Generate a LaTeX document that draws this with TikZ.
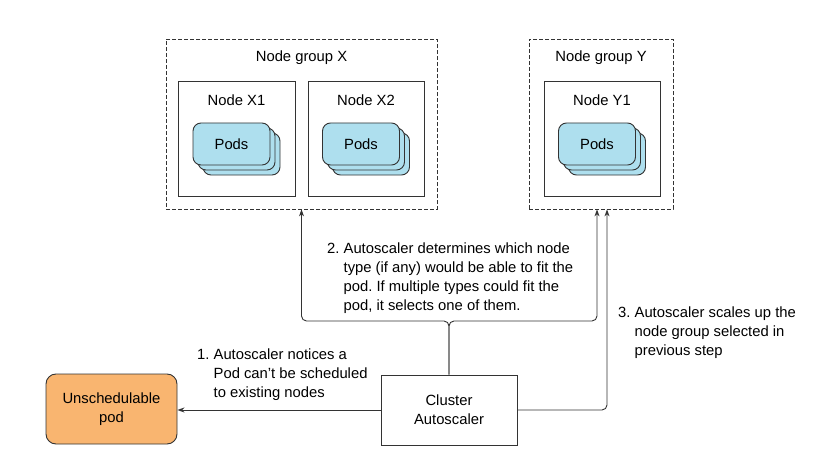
\documentclass[tikz,border=0pt]{standalone}
\usepackage{fontspec}
\setmainfont{Liberation Sans}
\usepackage{tikz}
\usetikzlibrary{arrows.meta,positioning}
\definecolor{podblue}{RGB}{174,223,238}
\definecolor{podorange}{RGB}{249,181,112}
\definecolor{linegray}{RGB}{51,51,51}
\frenchspacing

\begin{document}
\begin{tikzpicture}[x=1pt,y=-1pt,font=\fontsize{14.8}{19}\selectfont,
	groupbox/.style={draw=linegray,line width=0.8pt,dash pattern=on 4pt off 2pt},
	hostbox/.style={draw=linegray,line width=0.9pt},
	podcard/.style={draw=linegray,line width=0.9pt,fill=podblue,rounded corners=8pt,minimum width=77,minimum height=42},
	plain/.style={inner sep=0pt},
	note/.style={inner sep=0pt,align=left,anchor=north west},
	conn/.style={draw=linegray,line width=0.9pt,rounded corners=5pt,-{Stealth[length=7pt,width=5pt]}}]
	\useasboundingbox (0,0) rectangle (839,460);
	\node[groupbox,minimum width=271,minimum height=170] (gx) at (301.5,124) {};
	\node[groupbox,minimum width=144,minimum height=170] (gy) at (601,124) {};
	\node[plain,below=11.6pt of gx.north] (lgx) {Node group X};
	\node[plain,below=11.6pt of gy.north] (lgy) {Node group Y};
	\node[hostbox,minimum width=117,minimum height=115] (nx1) at (236.5,138.5) {};
	\node[hostbox,minimum width=116,minimum height=115] (nx2) at (366,138.5) {};
	\node[hostbox,minimum width=116,minimum height=115] (ny1) at (602,138.5) {};
	\node[plain,below=13.8pt of nx1.north] (lnx1) {Node X1};
	\node[plain,below=13.8pt of nx2.north] (lnx2) {Node X2};
	\node[plain,below=13.8pt of ny1.north] (lny1) {Node Y1};
	\foreach \n/\x in {x1/231.5,x2/361,y1/597} {
		\node[podcard] at (\x+10,154) {};
		\node[podcard] at (\x+5,149) {};
		\node[podcard] (pods\n) at (\x,144) {Pods};
	}
	\node[hostbox,minimum width=136,minimum height=70,align=center] (ca) at (449,410) {Cluster\\Autoscaler};
	\node[hostbox,fill=podorange,rounded corners=10pt,minimum width=131,minimum height=70,align=center] (pod) at (111.5,409) {Unschedulable\\pod};
	\coordinate (bend) at (449,321);
	\draw[conn] (ca.west) -- (pod.east |- ca.west);
	\draw[conn] (ca.north) -- (bend) -| (gx.south);
	\draw[conn] (ca.north) -- (bend) -| ([xshift=-4pt]gy.south);
	\draw[conn] (ca.east) -| ([xshift=6pt]gy.south);
	\node[note] (s1) at (197,348.5) {1.~Autoscaler notices a\\\phantom{1.~}Pod can't be scheduled\\\phantom{1.~}to existing nodes};
	\node[note] (s2) at (327,242.5) {2.~Autoscaler determines which node\\\phantom{2.~}type (if any) would be able to fit the\\\phantom{2.~}pod. If multiple types could fit the\\\phantom{2.~}pod, it selects one of them.};
	\node[note] (s3) at (618,306.5) {3.~Autoscaler scales up the\\\phantom{3.~}node group selected in\\\phantom{3.~}previous step};
\end{tikzpicture}
\end{document}
